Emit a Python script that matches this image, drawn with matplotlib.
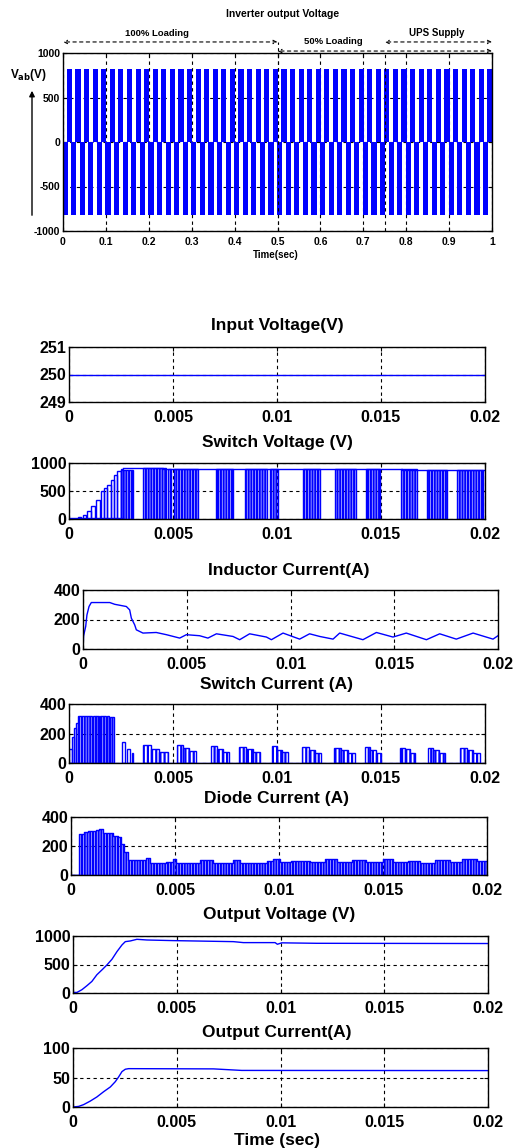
import numpy as np
import matplotlib
matplotlib.use('Agg')
import matplotlib.pyplot as plt
from matplotlib.transforms import blended_transform_factory

plt.rcParams['font.family'] = ['Liberation Sans', 'DejaVu Sans']
plt.rcParams['font.weight'] = 'bold'
plt.rcParams['hatch.linewidth'] = 1.6

# ---------------- data ----------------
# Inverter output voltage (top chart): half-cycle blocks (start times, s)
inv_pos_starts = [0.01, 0.03, 0.05, 0.07, 0.09, 0.11, 0.13, 0.15, 0.17, 0.19,
                  0.21, 0.23, 0.25, 0.27, 0.29, 0.31, 0.33, 0.35, 0.37, 0.39,
                  0.41, 0.43, 0.45, 0.47, 0.49, 0.51, 0.53, 0.55, 0.57, 0.59,
                  0.61, 0.63, 0.65, 0.67, 0.69, 0.71, 0.73, 0.75, 0.77, 0.79,
                  0.81, 0.83, 0.85, 0.87, 0.89, 0.91, 0.93, 0.95, 0.97, 0.99]
inv_neg_starts = [0.00, 0.02, 0.04, 0.06, 0.08, 0.10, 0.12, 0.14, 0.16, 0.18,
                  0.20, 0.22, 0.24, 0.26, 0.28, 0.30, 0.32, 0.34, 0.36, 0.38,
                  0.40, 0.42, 0.44, 0.46, 0.48, 0.50, 0.52, 0.54, 0.56, 0.58,
                  0.60, 0.62, 0.64, 0.66, 0.68, 0.70, 0.72, 0.74, 0.76, 0.78,
                  0.80, 0.82, 0.84, 0.86, 0.88, 0.90, 0.92, 0.94, 0.96, 0.98]
inv_half_period = 0.01
inv_amp = 825
inv_xticks = [0, 0.1, 0.2, 0.3, 0.4, 0.5, 0.6, 0.7, 0.8, 0.9, 1]
inv_xticklabels = ['0', '0.1', '0.2', '0.3', '0.4', '0.5', '0.6', '0.7', '0.8', '0.9', '1']
inv_yticks = [-1000, -500, 0, 500, 1000]
stage_labels = ['100% Loading', '50% Loading', 'UPS Supply']
stage_bounds = [(0.0, 0.5), (0.5, 1.0), (0.75, 1.0)]

# Common x ticks for the lower panels
xt = [0, 0.005, 0.01, 0.015, 0.02]
xtl = ['0', '0.005', '0.01', '0.015', '0.02']

# Input voltage
vin_t = [0.0, 0.02]
vin_v = [250, 250]

# Switch voltage
sv_ramp = [(0.00045, 0.00058, 40), (0.00067, 0.00080, 80), (0.00088, 0.00104, 140),
           (0.00108, 0.00125, 230), (0.00129, 0.00148, 345), (0.00153, 0.00169, 494),
           (0.00169, 0.00185, 553), (0.00185, 0.00201, 613), (0.00201, 0.00217, 700),
           (0.00217, 0.00233, 790), (0.00233, 0.00249, 850), (0.00249, 0.00260, 890)]
sv_base = 12
sv_high_t = [0.0026, 0.0045, 0.0160, 0.0200]
sv_high_v = [910, 885, 870, 870]
sv_clusters = [(0.00252, 0.00308), (0.00356, 0.00468), (0.00476, 0.00492),
               (0.00504, 0.00621), (0.00709, 0.00789), (0.00845, 0.00950),
               (0.00964, 0.01004), (0.01124, 0.01205), (0.01277, 0.01382),
               (0.01430, 0.01494), (0.01598, 0.01671), (0.01719, 0.01815),
               (0.01864, 0.01992)]

# Inductor current
il_t = [0, 0.00003, 0.00013, 0.00019, 0.00029, 0.0004, 0.00129, 0.00153, 0.00209,
        0.00225, 0.00233, 0.00249, 0.00257, 0.00273, 0.00289, 0.00353, 0.00402,
        0.00466, 0.00498, 0.00562, 0.00602, 0.00643, 0.00723, 0.00755, 0.00803,
        0.00884, 0.00908, 0.00964, 0.01044, 0.01092, 0.01141, 0.01205, 0.01237,
        0.01349, 0.01414, 0.01494, 0.01558, 0.01655, 0.01719, 0.01799, 0.01880,
        0.01976, 0.02]
il_v = [0, 90, 153, 231, 288, 315, 315, 303, 288, 265, 209, 164, 130, 119, 108, 112,
        97, 74, 97, 90, 74, 103, 85, 63, 103, 81, 63, 108, 67, 103, 85, 67, 108, 63,
        112, 81, 108, 63, 103, 67, 108, 67, 90]

# Switch current
sw_init = [(0.0, 0.00013, 98), (0.00013, 0.00024, 177), (0.00024, 0.00035, 234),
           (0.00035, 0.00045, 268)]
sw_init_dense = [(0.00045, 0.00110, 318), (0.00113, 0.00128, 318), (0.00131, 0.00146, 318),
                 (0.00148, 0.00180, 318), (0.00183, 0.00193, 318), (0.00195, 0.00217, 310)]
sw_single = [(0.00257, 0.00268, 143), (0.00281, 0.00292, 98), (0.00302, 0.00308, 70)]
sw_groups = [(0.00357, 0.00474, 120, 95, 72), (0.00517, 0.00610, 120, 100, 80),
             (0.00683, 0.00771, 115, 95, 75), (0.00819, 0.00916, 110, 95, 75),
             (0.00975, 0.01052, 112, 90, 72), (0.01121, 0.01213, 110, 90, 70),
             (0.01274, 0.01373, 105, 90, 70), (0.01422, 0.01502, 110, 90, 70),
             (0.01590, 0.01663, 100, 95, 70), (0.01724, 0.01807, 105, 85, 70),
             (0.01880, 0.01976, 105, 90, 70)]

# Diode current
id_t = [0, 0.0004, 0.00064, 0.0008, 0.0012, 0.00137, 0.00153, 0.00201, 0.00225,
        0.00241, 0.00257, 0.00273, 0.00361, 0.00378, 0.00458, 0.0049, 0.00506,
        0.00618, 0.00683, 0.00779, 0.00811, 0.0094, 0.00972, 0.01004, 0.0106,
        0.0115, 0.0122, 0.0128, 0.0135, 0.0142, 0.0150, 0.0155, 0.0162, 0.0168,
        0.0175, 0.0182, 0.0188, 0.0195, 0.0198, 0.02]
id_v = [0, 284, 300, 305, 312, 318, 288, 272, 260, 214, 156, 102, 116, 86, 93, 109,
        86, 102, 86, 102, 86, 98, 109, 92, 100, 88, 110, 90, 105, 88, 110, 92, 100,
        85, 105, 92, 110, 95, 100, 100]

# Output voltage
vo_t = [0, 0.00019, 0.00043, 0.00067, 0.00091, 0.00115, 0.0014, 0.00164, 0.00188,
        0.00212, 0.00236, 0.00252, 0.00276, 0.00308, 0.00356, 0.00484, 0.00773,
        0.00821, 0.00974, 0.00985, 0.01006, 0.01174, 0.02]
vo_v = [10, 10, 58, 128, 203, 320, 407, 494, 593, 727, 843, 901, 913, 942, 930, 919,
        901, 884, 884, 855, 880, 872, 868]

# Output current
io_t = [0, 0.00027, 0.00051, 0.00083, 0.00115, 0.00148, 0.0018, 0.00204, 0.0022,
        0.00236, 0.00252, 0.00268, 0.00677, 0.00813, 0.02]
io_v = [0, 1, 4, 10, 17, 26, 34, 43, 51, 60, 64, 65, 64.6, 62, 61.7]

# ---------------- figure ----------------
W, H = 515, 1148
fig = plt.figure(figsize=(W / 100, H / 100), dpi=100)
BLUE = '#0000ff'
HATCH = '||||||'


def axes_px(l, t, r, b):
    return fig.add_axes([l / W, 1 - b / H, (r - l) / W, (b - t) / H])


def ftext(x, y, s, **kw):
    fig.text(x / W, 1 - y / H, s, ha='center', va='center', **kw)


def style(ax, ylim, yticks, fs, xticks, xlabels, xpad=6):
    ax.set_xlim(xticks[0], xticks[-1])
    ax.set_ylim(*ylim)
    ax.set_xticks(xticks)
    ax.set_xticklabels(xlabels)
    ax.set_yticks(yticks)
    ax.set_yticklabels([str(v) for v in yticks])
    ax.tick_params(direction='in', top=True, right=True, length=3, width=0.8,
                   labelsize=fs)
    ax.tick_params(axis='x', pad=xpad)
    ax.tick_params(axis='y', pad=2)
    for lab in ax.get_xticklabels() + ax.get_yticklabels():
        lab.set_fontweight('bold')
    ax.grid(True, color='black', linestyle=(0, (3, 3)), linewidth=0.8)
    ax.set_axisbelow(True)
    for sp in ax.spines.values():
        sp.set_linewidth(1.0)


# ---- Top chart ----
ax0 = axes_px(63, 53, 492, 231)
bw = inv_half_period * 1.2
ax0.bar(np.array(inv_pos_starts) + inv_half_period / 2, inv_amp, width=bw,
        color=BLUE, lw=0)
ax0.bar(np.array(inv_neg_starts) + inv_half_period / 2, -inv_amp, width=bw,
        color=BLUE, lw=0)
style(ax0, (-1000, 1000), inv_yticks, 7.5, inv_xticks, inv_xticklabels, xpad=4)
tr = blended_transform_factory(ax0.transData, ax0.transAxes)
lvl = [1.062, 1.011, 1.062]
txt_y = [1.112, 1.062, 1.112]
txt_x = [0.22, 0.63, 0.87]
txt_fs = [6.8, 6.8, 7.0]
for (a, b), yl, ty, tx, fs, s in zip(stage_bounds, lvl, txt_y, txt_x, txt_fs, stage_labels):
    ax0.annotate('', xy=(a, yl), xytext=(b, yl), xycoords=tr, textcoords=tr,
                 arrowprops=dict(arrowstyle='<->', linestyle=(0, (3, 3)), lw=0.8,
                                 color='black', mutation_scale=6,
                                 shrinkA=0, shrinkB=0), annotation_clip=False)
    ax0.text(tx, ty, s, transform=tr, ha='center', va='center', fontsize=fs,
             fontweight='bold')
ax0.plot([0.5, 0.5], [0, 1.062], transform=tr, color='black', lw=0.8,
         linestyle=(0, (3, 3)), clip_on=False)
ax0.plot([0.75, 0.75], [0, 1.011], transform=tr, color='black', lw=0.8,
         linestyle=(0, (3, 3)), clip_on=False)
ftext(283, 14, 'Inverter output Voltage', fontsize=7.5, fontweight='bold')
ftext(276, 255, 'Time(sec)', fontsize=7, fontweight='bold')
ftext(28, 75, r'V$_{\mathbf{ab}}$(V)', fontsize=8.5, fontweight='bold')
fig.add_artist(matplotlib.patches.FancyArrowPatch(
    (32 / W, 1 - 218 / H), (32 / W, 1 - 88 / H), transform=fig.transFigure,
    arrowstyle='-|>', mutation_scale=8, lw=1.0, color='black'))

TFS = 11.5
HFS = 12.5
# ---- P1 Input voltage ----
ax1 = axes_px(69, 347, 485, 402)
ax1.plot(vin_t, vin_v, color=BLUE, lw=1.0)
style(ax1, (249, 251), [249, 250, 251], TFS, xt, xtl)
ftext(277, 325, 'Input Voltage(V)', fontsize=HFS, fontweight='bold')

# ---- P2 Switch voltage ----
ax2 = axes_px(69, 463, 485, 519)
ax2.plot([0, sv_ramp[-1][1]], [sv_base, sv_base], color=BLUE, lw=1.0)
for s, e, h in sv_ramp:
    ax2.bar(s, h, width=e - s, align='edge', facecolor='none', edgecolor=BLUE, lw=1.0)
ax2.step(sv_high_t, sv_high_v, where='post', color=BLUE, lw=1.0)
for s, e in sv_clusters:
    h = sv_high_v[np.searchsorted(sv_high_t, s, side='right') - 1]
    ax2.bar(s, h, width=e - s, align='edge', facecolor='none', edgecolor=BLUE,
            hatch=HATCH, lw=1.0)
style(ax2, (0, 1000), [0, 500, 1000], TFS, xt, xtl)
ftext(277, 443, 'Switch Voltage (V)', fontsize=HFS, fontweight='bold')

# ---- P3 Inductor current ----
ax3 = axes_px(83, 590, 498, 649)
ax3.plot(il_t, il_v, color=BLUE, lw=1.0)
style(ax3, (0, 400), [0, 200, 400], TFS, xt, xtl)
ftext(289, 571, 'Inductor Current(A)', fontsize=HFS, fontweight='bold')

# ---- P4 Switch current ----
ax4 = axes_px(69, 704, 485, 763)
ax4.plot([0, 0.02], [0, 0], color=BLUE, lw=1.0)
for s, e, h in sw_init + sw_single:
    ax4.bar(s, h, width=e - s, align='edge', facecolor='none', edgecolor=BLUE, lw=1.0)
for s, e, h in sw_init_dense:
    ax4.bar(s, h, width=e - s, align='edge', facecolor='none', edgecolor=BLUE,
            hatch=HATCH, lw=1.0)
for g in sw_groups:
    s, e, hs = g[0], g[1], g[2:]
    w = (e - s) / len(hs)
    for i, h in enumerate(hs):
        ax4.bar(s + i * w, h, width=w, align='edge', facecolor='none',
                edgecolor=BLUE, hatch='||||', lw=1.0)
style(ax4, (0, 400), [0, 200, 400], TFS, xt, xtl)
ftext(277, 685, 'Switch Current (A)', fontsize=HFS, fontweight='bold')

# ---- P5 Diode current ----
ax5 = axes_px(71, 817, 487, 875)
ax5.fill_between(id_t, 0, id_v, step='post', facecolor='none', edgecolor=BLUE,
                 hatch=HATCH, lw=0)
ax5.plot(id_t, id_v, color=BLUE, lw=1.0, drawstyle='steps-post')
ax5.plot([0, 0.02], [0, 0], color=BLUE, lw=1.0)
style(ax5, (0, 400), [0, 200, 400], TFS, xt, xtl)
ftext(277, 798, 'Diode Current (A)', fontsize=HFS, fontweight='bold')

# ---- P6 Output voltage ----
ax6 = axes_px(73, 936, 488, 993)
ax6.plot(vo_t, vo_v, color=BLUE, lw=1.0)
style(ax6, (0, 1000), [0, 500, 1000], TFS, xt, xtl)
ftext(279, 915, 'Output Voltage (V)', fontsize=HFS, fontweight='bold')

# ---- P7 Output current ----
ax7 = axes_px(73, 1048, 488, 1107)
ax7.plot(io_t, io_v, color=BLUE, lw=1.0)
style(ax7, (0, 100), [0, 50, 100], TFS, xt, xtl)
ftext(277, 1032, 'Output Current(A)', fontsize=HFS, fontweight='bold')
ftext(277, 1140, 'Time (sec)', fontsize=12.5, fontweight='bold')

fig.savefig('out.png', dpi=100)
